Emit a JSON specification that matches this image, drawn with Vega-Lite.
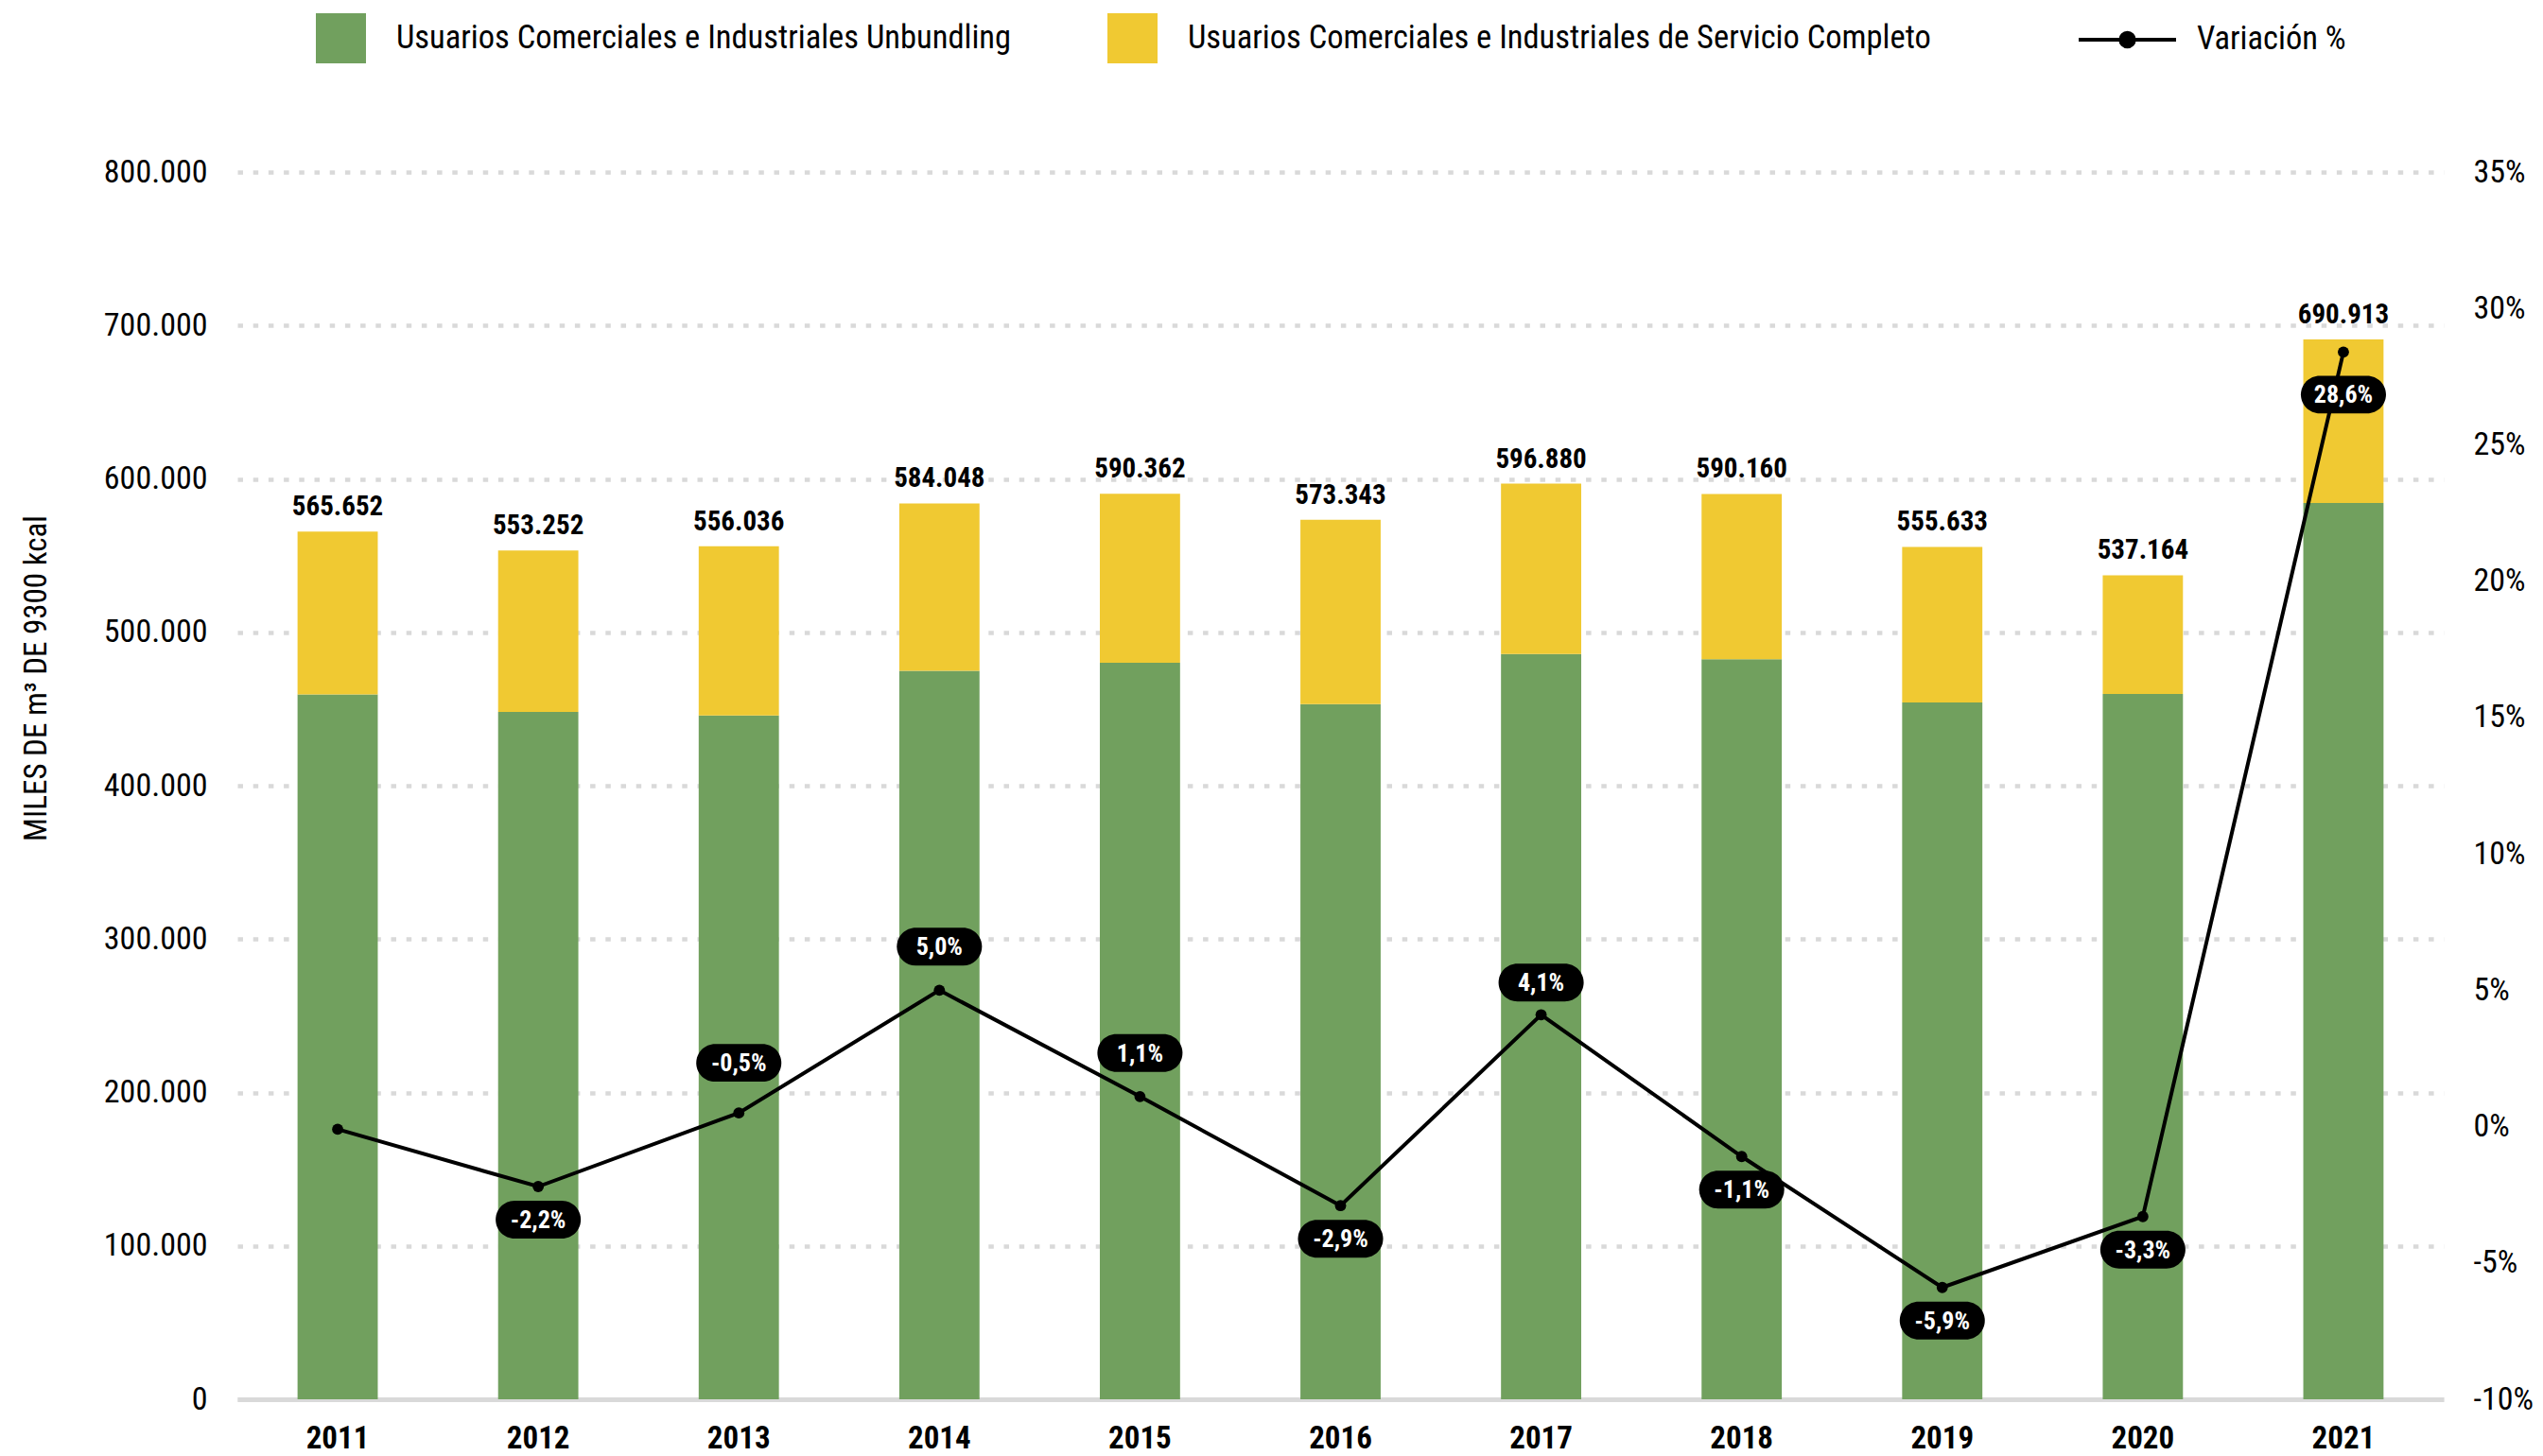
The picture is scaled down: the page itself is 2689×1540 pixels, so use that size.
{
  "$schema": "https://vega.github.io/schema/vega-lite/v6.json",
  "width": 2333,
  "height": 1298,
  "autosize": {"type": "none"},
  "padding": {"left": 251, "top": 182, "right": 105, "bottom": 60},
  "background": "white",
  "config": {
    "font": "Roboto Condensed, Liberation Sans Narrow, Roboto, sans-serif",
    "locale": {"number": {"decimal": ",", "thousands": ".", "grouping": [3], "currency": ["$", ""]}},
    "view": {"stroke": null},
    "axis": {"labelColor": "#000000", "titleColor": "#000000", "ticks": false, "domain": false},
    "legend": {"padding": 0, "labelColor": "#000000", "labelFontSize": 34.5, "labelFont": "Roboto Condensed, Liberation Sans Narrow, Roboto, sans-serif"}
  },
  "datasets": {
    "barras": [
      {"year": 2011, "serie": "Usuarios Comerciales e Industriales Unbundling", "value": 459500},
      {"year": 2011, "serie": "Usuarios Comerciales e Industriales de Servicio Completo", "value": 106152},
      {"year": 2012, "serie": "Usuarios Comerciales e Industriales Unbundling", "value": 448100},
      {"year": 2012, "serie": "Usuarios Comerciales e Industriales de Servicio Completo", "value": 105152},
      {"year": 2013, "serie": "Usuarios Comerciales e Industriales Unbundling", "value": 445800},
      {"year": 2013, "serie": "Usuarios Comerciales e Industriales de Servicio Completo", "value": 110236},
      {"year": 2014, "serie": "Usuarios Comerciales e Industriales Unbundling", "value": 474900},
      {"year": 2014, "serie": "Usuarios Comerciales e Industriales de Servicio Completo", "value": 109148},
      {"year": 2015, "serie": "Usuarios Comerciales e Industriales Unbundling", "value": 480100},
      {"year": 2015, "serie": "Usuarios Comerciales e Industriales de Servicio Completo", "value": 110262},
      {"year": 2016, "serie": "Usuarios Comerciales e Industriales Unbundling", "value": 453200},
      {"year": 2016, "serie": "Usuarios Comerciales e Industriales de Servicio Completo", "value": 120143},
      {"year": 2017, "serie": "Usuarios Comerciales e Industriales Unbundling", "value": 485800},
      {"year": 2017, "serie": "Usuarios Comerciales e Industriales de Servicio Completo", "value": 111080},
      {"year": 2018, "serie": "Usuarios Comerciales e Industriales Unbundling", "value": 482500},
      {"year": 2018, "serie": "Usuarios Comerciales e Industriales de Servicio Completo", "value": 107660},
      {"year": 2019, "serie": "Usuarios Comerciales e Industriales Unbundling", "value": 454200},
      {"year": 2019, "serie": "Usuarios Comerciales e Industriales de Servicio Completo", "value": 101433},
      {"year": 2020, "serie": "Usuarios Comerciales e Industriales Unbundling", "value": 459800},
      {"year": 2020, "serie": "Usuarios Comerciales e Industriales de Servicio Completo", "value": 77364},
      {"year": 2021, "serie": "Usuarios Comerciales e Industriales Unbundling", "value": 584300},
      {"year": 2021, "serie": "Usuarios Comerciales e Industriales de Servicio Completo", "value": 106613}
    ],
    "totales": [
      {"year": 2011, "total": 565652, "var": -0.1, "etiqueta": null},
      {"year": 2012, "total": 553252, "var": -2.2, "etiqueta": "-2,2%"},
      {"year": 2013, "total": 556036, "var": 0.5, "etiqueta": "-0,5%"},
      {"year": 2014, "total": 584048, "var": 5.0, "etiqueta": "5,0%"},
      {"year": 2015, "total": 590362, "var": 1.1, "etiqueta": "1,1%"},
      {"year": 2016, "total": 573343, "var": -2.9, "etiqueta": "-2,9%"},
      {"year": 2017, "total": 596880, "var": 4.1, "etiqueta": "4,1%"},
      {"year": 2018, "total": 590160, "var": -1.1, "etiqueta": "-1,1%"},
      {"year": 2019, "total": 555633, "var": -5.9, "etiqueta": "-5,9%"},
      {"year": 2020, "total": 537164, "var": -3.3, "etiqueta": "-3,3%"},
      {"year": 2021, "total": 690913, "var": 28.4, "etiqueta": "28,6%"}
    ]
  },
  "encoding": {
    "x": {
      "field": "year", "type": "ordinal",
      "scale": {"paddingInner": 0.6, "paddingOuter": 0.3},
      "axis": {
        "title": null, "labelAngle": 0, "labelFontSize": 33, "labelFontWeight": "bold",
        "labelPadding": 25, "domain": true, "domainColor": "#d9d9d9", "domainWidth": 5, "ticks": false, "grid": false
      }
    }
  },
  "layer": [
    {
      "layer": [
        {
          "data": {"name": "barras"},
          "mark": {"type": "bar"},
          "encoding": {
            "y": {
              "field": "value", "type": "quantitative", "stack": "zero",
              "scale": {"domain": [0, 800000], "nice": false},
              "axis": {
                "orient": "left",
                "values": [0, 100000, 200000, 300000, 400000, 500000, 600000, 700000, 800000],
                "format": ",d", "labelFontSize": 34, "labelPadding": 32,
                "grid": true, "gridColor": "#d9d9d9", "gridWidth": 4.5, "gridDash": [5.5, 10.7],
                "title": "MILES DE m³ DE 9300 kcal", "titleFontSize": 33, "titleFontWeight": "normal",
                "titleX": -213, "titleY": 535, "titleAngle": 270, "titleAlign": "center", "titleBaseline": "middle"
              }
            },
            "color": {
              "field": "serie", "type": "nominal",
              "scale": {
                "domain": ["Usuarios Comerciales e Industriales Unbundling", "Usuarios Comerciales e Industriales de Servicio Completo"],
                "range": ["#71A05E", "#F0C932"]
              },
              "legend": {
                "title": null, "orient": "none", "legendX": 83, "legendY": -168,
                "direction": "horizontal", "columns": 2, "columnPadding": 101,
                "symbolType": "square", "symbolSize": 2809, "symbolStrokeWidth": 0,
                "labelOffset": 32, "labelFontSize": 34.5, "labelLimit": 2000
              }
            },
            "order": {"field": "serie", "sort": "ascending"}
          }
        },
        {
          "data": {"name": "totales"},
          "mark": {"type": "text", "fontSize": 29, "fontWeight": "bold", "color": "#000000", "baseline": "alphabetic", "dy": -17},
          "encoding": {
            "y": {"field": "total", "type": "quantitative"},
            "text": {"field": "total", "type": "quantitative", "format": ",d"}
          }
        }
      ]
    },
    {
      "data": {"name": "totales"},
      "layer": [
        {
          "mark": {"type": "line", "strokeWidth": 4},
          "encoding": {
            "y": {
              "field": "var", "type": "quantitative",
              "scale": {"domain": [-10, 35], "nice": false},
              "axis": {
                "orient": "right", "title": null,
                "values": [-10, -5, 0, 5, 10, 15, 20, 25, 30, 35],
                "labelExpr": "datum.value + '%'", "labelFontSize": 34, "labelPadding": 31, "grid": false
              }
            },
            "stroke": {
              "datum": "Variación %", "type": "nominal",
              "scale": {"domain": ["Variación %"], "range": ["#000000"]},
              "legend": {
                "title": null, "orient": "none", "legendX": 1945, "legendY": -193.5,
                "symbolType": "M -1 0 L 1 0 M 0.14 0 A 0.14 0.14 0 1 1 -0.14 0 A 0.14 0.14 0 1 1 0.14 0 Z",
                "symbolSize": 10609, "symbolStrokeWidth": 4, "symbolFillColor": "#000000", "symbolStrokeColor": "#000000",
                "labelOffset": 20, "labelFontSize": 34.5
              }
            }
          }
        },
        {
          "mark": {"type": "point", "filled": true, "color": "#000000", "size": 140, "opacity": 1},
          "encoding": {"y": {"field": "var", "type": "quantitative"}}
        },
        {
          "transform": [{"filter": {"field": "year", "oneOf": [2013]}}],
          "mark": {"type": "point", "filled": true, "color": "#000000", "opacity": 1, "size": 8100, "yOffset": -53,
            "shape": "M -0.556 -0.444 L 0.556 -0.444 A 0.444 0.444 0 0 1 0.556 0.444 L -0.556 0.444 A 0.444 0.444 0 0 1 -0.556 -0.444 Z"},
          "encoding": {"y": {"field": "var", "type": "quantitative"}}
        },
        {
          "transform": [{"filter": {"field": "year", "oneOf": [2013]}}],
          "mark": {"type": "text", "color": "#ffffff", "fontSize": 26, "fontWeight": "bold", "baseline": "middle", "dy": -52},
          "encoding": {"y": {"field": "var", "type": "quantitative"}, "text": {"field": "etiqueta"}}
        },
        {
          "transform": [{"filter": {"field": "year", "oneOf": [2014, 2015]}}],
          "mark": {"type": "point", "filled": true, "color": "#000000", "opacity": 1, "size": 8100, "yOffset": -46,
            "shape": "M -0.556 -0.444 L 0.556 -0.444 A 0.444 0.444 0 0 1 0.556 0.444 L -0.556 0.444 A 0.444 0.444 0 0 1 -0.556 -0.444 Z"},
          "encoding": {"y": {"field": "var", "type": "quantitative"}}
        },
        {
          "transform": [{"filter": {"field": "year", "oneOf": [2014, 2015]}}],
          "mark": {"type": "text", "color": "#ffffff", "fontSize": 26, "fontWeight": "bold", "baseline": "middle", "dy": -45},
          "encoding": {"y": {"field": "var", "type": "quantitative"}, "text": {"field": "etiqueta"}}
        },
        {
          "transform": [{"filter": {"field": "year", "oneOf": [2017]}}],
          "mark": {"type": "point", "filled": true, "color": "#000000", "opacity": 1, "size": 8100, "yOffset": -34,
            "shape": "M -0.556 -0.444 L 0.556 -0.444 A 0.444 0.444 0 0 1 0.556 0.444 L -0.556 0.444 A 0.444 0.444 0 0 1 -0.556 -0.444 Z"},
          "encoding": {"y": {"field": "var", "type": "quantitative"}}
        },
        {
          "transform": [{"filter": {"field": "year", "oneOf": [2017]}}],
          "mark": {"type": "text", "color": "#ffffff", "fontSize": 26, "fontWeight": "bold", "baseline": "middle", "dy": -33},
          "encoding": {"y": {"field": "var", "type": "quantitative"}, "text": {"field": "etiqueta"}}
        },
        {
          "transform": [{"filter": {"field": "year", "oneOf": [2012, 2016, 2018, 2019, 2020]}}],
          "mark": {"type": "point", "filled": true, "color": "#000000", "opacity": 1, "size": 8100, "yOffset": 35,
            "shape": "M -0.556 -0.444 L 0.556 -0.444 A 0.444 0.444 0 0 1 0.556 0.444 L -0.556 0.444 A 0.444 0.444 0 0 1 -0.556 -0.444 Z"},
          "encoding": {"y": {"field": "var", "type": "quantitative"}}
        },
        {
          "transform": [{"filter": {"field": "year", "oneOf": [2012, 2016, 2018, 2019, 2020]}}],
          "mark": {"type": "text", "color": "#ffffff", "fontSize": 26, "fontWeight": "bold", "baseline": "middle", "dy": 36},
          "encoding": {"y": {"field": "var", "type": "quantitative"}, "text": {"field": "etiqueta"}}
        },
        {
          "transform": [{"filter": {"field": "year", "oneOf": [2021]}}],
          "mark": {"type": "point", "filled": true, "color": "#000000", "opacity": 1, "size": 8100, "yOffset": 45,
            "shape": "M -0.556 -0.444 L 0.556 -0.444 A 0.444 0.444 0 0 1 0.556 0.444 L -0.556 0.444 A 0.444 0.444 0 0 1 -0.556 -0.444 Z"},
          "encoding": {"y": {"field": "var", "type": "quantitative"}}
        },
        {
          "transform": [{"filter": {"field": "year", "oneOf": [2021]}}],
          "mark": {"type": "text", "color": "#ffffff", "fontSize": 26, "fontWeight": "bold", "baseline": "middle", "dy": 46},
          "encoding": {"y": {"field": "var", "type": "quantitative"}, "text": {"field": "etiqueta"}}
        }
      ]
    }
  ],
  "resolve": {"scale": {"y": "independent"}}
}
